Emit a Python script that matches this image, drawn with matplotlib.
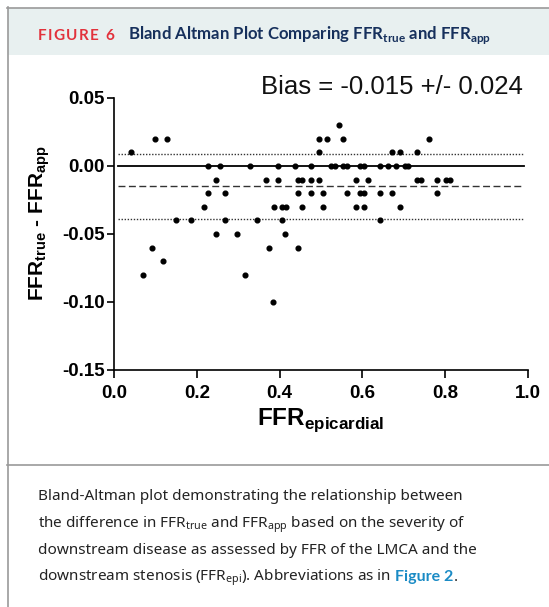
import matplotlib
matplotlib.use("Agg")
import matplotlib.pyplot as plt
from matplotlib.lines import Line2D
from matplotlib.patches import Rectangle

plt.rcParams["font.family"] = ["Liberation Sans", "DejaVu Sans"]
plt.rcParams["axes.unicode_minus"] = False
plt.rcParams["mathtext.fontset"] = "custom"
plt.rcParams["mathtext.bf"] = "Liberation Sans:bold"
plt.rcParams["mathtext.rm"] = "Noto Sans"
plt.rcParams["mathtext.sf"] = "Lato:bold"

W, H = 549, 607

# FFR_epicardial (x) and FFR_true - FFR_app (y), grouped by difference level
diff_levels = [0.03, 0.02, 0.01, 0.00, -0.01, -0.02, -0.03, -0.04, -0.05, -0.06, -0.07, -0.08, -0.10]
ffr_epi = [
    [0.544],
    [0.10, 0.129, 0.495, 0.514, 0.554, 0.761],
    [0.04, 0.495, 0.672, 0.692, 0.732],
    [0.228, 0.256, 0.328, 0.397, 0.436, 0.475, 0.524, 0.534, 0.554, 0.564,
     0.594, 0.603, 0.643, 0.663, 0.682, 0.702, 0.711],
    [0.247, 0.366, 0.397, 0.445, 0.455, 0.475, 0.495, 0.584, 0.614, 0.732,
     0.741, 0.781, 0.802, 0.811],
    [0.228, 0.267, 0.445, 0.475, 0.504, 0.564, 0.594, 0.603, 0.643, 0.672, 0.781],
    [0.218, 0.386, 0.405, 0.415, 0.455, 0.504, 0.584, 0.603, 0.692],
    [0.149, 0.187, 0.267, 0.346, 0.405, 0.643],
    [0.247, 0.296, 0.414],
    [0.091, 0.375, 0.444],
    [0.119],
    [0.07, 0.316],
    [0.385],
]

bias = -0.015
upper_loa = 0.009
lower_loa = -0.039

x_ticks = [0.0, 0.2, 0.4, 0.6, 0.8, 1.0]
x_tick_labels = ["0.0", "0.2", "0.4", "0.6", "0.8", "1.0"]
y_ticks = [0.05, 0.00, -0.05, -0.10, -0.15]
y_tick_labels = ["0.05", "0.00", "-0.05", "-0.10", "-0.15"]

caption_lines = [
    "Bland-Altman plot demonstrating the relationship between",
    r"the difference in FFR$_\mathrm{true}$ and FFR$_\mathrm{app}$ based on the severity of",
    "downstream disease as assessed by FFR of the LMCA and the",
    r"downstream stenosis (FFR$_\mathrm{epi}$). Abbreviations as in",
]


def px(x, y):
    return x / W, 1 - y / H


fig = plt.figure(figsize=(W / 100, H / 100), dpi=100)

# frame, header band, separator
fig.add_artist(Rectangle(px(8, 55), (W - 8) / W, 47 / H, transform=fig.transFigure,
                         facecolor="#e8f0f0", edgecolor="none", zorder=0))
grey = "#9a9a9a"
fig.add_artist(Line2D([7 / W, 1], [1 - 7.5 / H] * 2, color=grey, lw=1.2))
fig.add_artist(Line2D([7.5 / W] * 2, [0, 1 - 7 / H], color=grey, lw=1.2))
fig.add_artist(Line2D([7 / W, 1], [1 - 464.5 / H] * 2, color=grey, lw=1.2))

renderer = fig.canvas.get_renderer()

# header: "FIGURE 6" with a little letter spacing
hx = 38
for ch in "FIGURE 6":
    t = fig.text(*px(hx, 39.5), ch, color="#e2313b", fontsize=11,
                 fontweight="bold", family="Lato", va="baseline")
    hx = t.get_window_extent(renderer).x1 + 1.3 if ch != " " else hx + 5
fig.text(*px(128, 39.5),
         r"Bland Altman Plot Comparing FFR$_\mathsf{true}$ and FFR$_\mathsf{app}$",
         color="#16305c", fontsize=12.1, fontweight="bold", family="Lato",
         va="baseline")

ax = fig.add_axes([114 / W, 1 - 370 / H, 414 / W, 272 / H])
for lvl, xs in zip(diff_levels, ffr_epi):
    ax.plot(xs, [lvl] * len(xs), "o", color="black", ms=3.4, zorder=3)

ax.plot([0.01, 0.99], [0, 0], color="black", lw=1.3)
ax.plot([0.01, 0.99], [bias, bias], color="#333333", lw=1.0, dashes=(5, 2.5))
ax.plot([0.01, 0.99], [upper_loa, upper_loa], color="#333333", lw=1.0, dashes=(1, 1.2))
ax.plot([0.01, 0.99], [lower_loa, lower_loa], color="#333333", lw=1.0, dashes=(1, 1.2))

ax.set_xlim(0, 1)
ax.set_ylim(-0.15, 0.05)
ax.set_xticks(x_ticks)
ax.set_xticklabels(x_tick_labels)
ax.set_yticks(y_ticks)
ax.set_yticklabels(y_tick_labels)
for s in ["top", "right"]:
    ax.spines[s].set_visible(False)
for s in ["left", "bottom"]:
    ax.spines[s].set_linewidth(1.2)
ax.tick_params(axis="both", direction="out", width=1.2, labelsize=13.5)
ax.tick_params(axis="y", length=5, pad=1.5)
ax.tick_params(axis="x", length=6, pad=5)
for lab in ax.get_xticklabels() + ax.get_yticklabels():
    lab.set_fontweight("bold")

ax.set_xlabel(r"$\mathbf{FFR}_{\mathbf{epicardial}}$", fontsize=17.5, labelpad=3)
ax.set_ylabel(r"$\mathbf{FFR}_{\mathbf{true}}$ - $\mathbf{FFR}_{\mathbf{app}}$",
              fontsize=15, fontweight="bold")
ax.yaxis.set_label_coords(-0.15, 0.54)

fig.text(*px(261, 94), "Bias = -0.015 +/- 0.024", fontsize=18.5, va="baseline",
         color="#111111")

# caption
baselines = [500.5, 527.5, 554, 580.7]
texts = []
for line, yb in zip(caption_lines, baselines):
    t = fig.text(*px(38, yb), line, fontsize=11.0, family="Noto Sans",
                 color="#222222", va="baseline")
    texts.append(t)

x_end = texts[-1].get_window_extent(renderer).x1
t2 = fig.text((x_end + 4) / W, 1 - baselines[-1] / H, "Figure 2", fontsize=11.5,
              family="Lato", fontweight="bold", color="#1a8bc5", va="baseline")
x_end2 = t2.get_window_extent(renderer).x1
fig.text((x_end2 + 0.5) / W, 1 - baselines[-1] / H, ".", fontsize=11.0,
         family="Noto Sans", color="#222222", va="baseline")

fig.savefig("out.png", dpi=100)
